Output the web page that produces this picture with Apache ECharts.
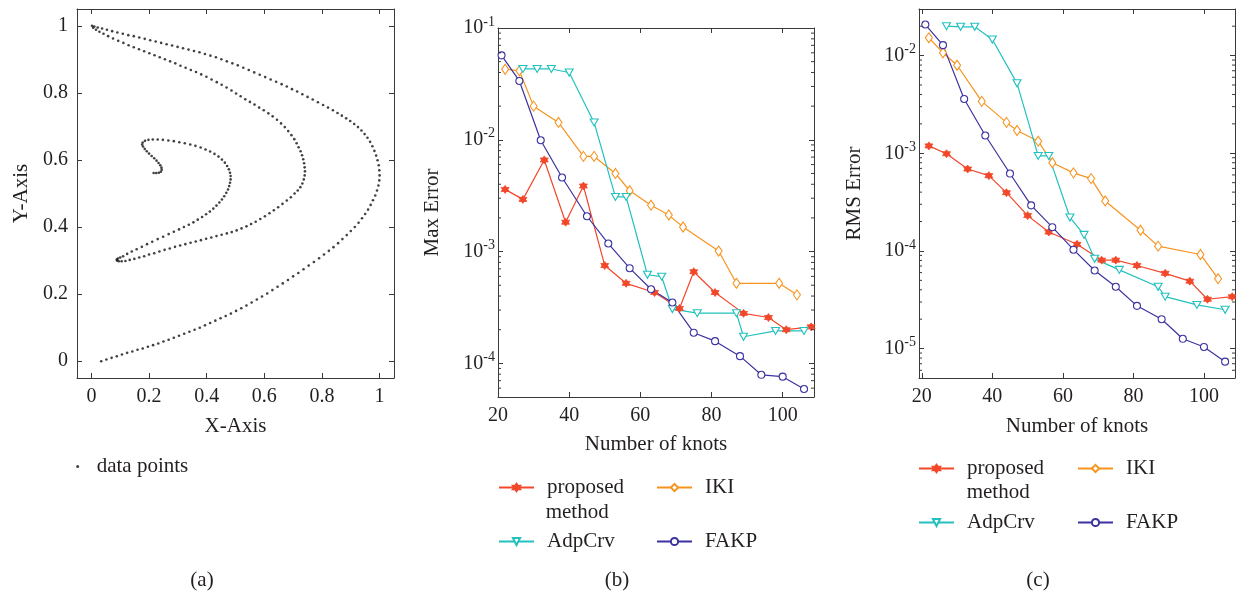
<!DOCTYPE html>
<html>
<head>
<meta charset="utf-8">
<title>knot placement errors</title>
<script src="https://cdn.jsdelivr.net/npm/echarts@6/dist/echarts.min.js"></script>
<style>
html, body { margin: 0; padding: 0; background: #fff; }
#chart { width: 1236px; height: 594px; }
</style>
</head>
<body>
<div id="chart"></div>
<script>
// (a) sampled points of the test curve, [x, y]
const curvePoints = [
  [0.034,0.000],[0.052,0.005],[0.070,0.010],[0.088,0.015],[0.106,0.020],[0.124,0.025],[0.142,0.029],[0.160,0.034],
  [0.178,0.038],[0.196,0.043],[0.214,0.048],[0.232,0.053],[0.250,0.059],[0.268,0.064],[0.286,0.070],[0.304,0.076],
  [0.322,0.082],[0.340,0.088],[0.358,0.094],[0.376,0.100],[0.394,0.107],[0.412,0.114],[0.430,0.121],[0.448,0.128],
  [0.466,0.135],[0.484,0.142],[0.502,0.150],[0.520,0.158],[0.538,0.166],[0.556,0.175],[0.574,0.184],[0.592,0.193],
  [0.610,0.202],[0.628,0.212],[0.646,0.222],[0.664,0.232],[0.682,0.242],[0.700,0.253],[0.718,0.263],[0.736,0.274],
  [0.754,0.285],[0.772,0.296],[0.790,0.307],[0.807,0.318],[0.824,0.329],[0.840,0.340],[0.856,0.352],[0.871,0.364],
  [0.886,0.376],[0.900,0.388],[0.914,0.400],[0.927,0.413],[0.939,0.426],[0.950,0.439],[0.960,0.452],[0.969,0.466],
  [0.977,0.480],[0.985,0.494],[0.991,0.509],[0.996,0.524],[0.999,0.539],[1.000,0.554],[0.999,0.569],[0.997,0.584],
  [0.993,0.599],[0.988,0.613],[0.982,0.627],[0.975,0.641],[0.967,0.654],[0.958,0.666],[0.948,0.677],[0.937,0.688],
  [0.925,0.698],[0.912,0.707],[0.898,0.716],[0.884,0.724],[0.869,0.732],[0.854,0.740],[0.838,0.748],[0.821,0.756],
  [0.804,0.764],[0.786,0.772],[0.768,0.780],[0.750,0.788],[0.732,0.796],[0.714,0.804],[0.696,0.811],[0.678,0.819],
  [0.660,0.826],[0.641,0.833],[0.622,0.840],[0.603,0.847],[0.584,0.854],[0.565,0.861],[0.546,0.868],[0.527,0.875],
  [0.508,0.882],[0.489,0.888],[0.470,0.894],[0.451,0.900],[0.432,0.906],[0.413,0.911],[0.394,0.916],[0.375,0.921],
  [0.356,0.925],[0.337,0.929],[0.318,0.933],[0.299,0.937],[0.280,0.941],[0.261,0.945],[0.242,0.949],[0.223,0.953],
  [0.204,0.957],[0.185,0.961],[0.166,0.965],[0.147,0.969],[0.128,0.972],[0.109,0.976],[0.090,0.980],[0.072,0.984],
  [0.054,0.988],[0.037,0.992],[0.022,0.995],[0.010,0.998],[0.002,1.000],
  [0.006,0.994],[0.016,0.988],[0.028,0.982],[0.042,0.976],[0.058,0.969],[0.075,0.962],[0.093,0.955],[0.111,0.949],
  [0.129,0.942],[0.147,0.936],[0.165,0.930],[0.183,0.924],[0.201,0.918],[0.219,0.912],[0.237,0.906],[0.255,0.900],
  [0.273,0.894],[0.291,0.888],[0.309,0.881],[0.327,0.875],[0.345,0.868],[0.363,0.862],[0.381,0.855],[0.399,0.848],
  [0.417,0.840],[0.435,0.832],[0.452,0.824],[0.469,0.816],[0.486,0.807],[0.502,0.798],[0.518,0.790],[0.534,0.781],
  [0.550,0.773],[0.566,0.765],[0.582,0.756],[0.598,0.748],[0.614,0.739],[0.629,0.730],[0.644,0.720],[0.658,0.709],
  [0.671,0.698],[0.683,0.686],[0.694,0.674],[0.704,0.662],[0.712,0.650],[0.719,0.638],[0.726,0.626],[0.731,0.614],
  [0.735,0.602],[0.738,0.590],[0.740,0.578],[0.741,0.566],[0.740,0.554],[0.737,0.542],[0.732,0.530],[0.725,0.519],
  [0.716,0.509],[0.705,0.500],[0.692,0.489],[0.678,0.479],[0.663,0.469],[0.648,0.459],[0.633,0.450],[0.618,0.441],
  [0.602,0.432],[0.586,0.424],[0.570,0.416],[0.554,0.409],[0.538,0.402],[0.521,0.396],[0.504,0.390],[0.487,0.385],
  [0.470,0.381],[0.452,0.377],[0.434,0.373],[0.416,0.369],[0.398,0.365],[0.380,0.361],[0.362,0.357],[0.344,0.353],
  [0.326,0.349],[0.308,0.345],[0.290,0.341],[0.272,0.336],[0.254,0.332],[0.236,0.327],[0.218,0.322],[0.200,0.318],
  [0.183,0.313],[0.166,0.309],[0.149,0.305],[0.133,0.302],[0.118,0.299],[0.105,0.298],[0.095,0.298],[0.089,0.300],
  [0.088,0.303],[0.092,0.306],[0.100,0.309],[0.110,0.313],[0.124,0.320],[0.140,0.327],[0.157,0.334],[0.175,0.341],
  [0.193,0.349],[0.211,0.356],[0.230,0.364],[0.249,0.371],[0.268,0.379],[0.286,0.386],[0.304,0.393],[0.321,0.400],
  [0.338,0.407],[0.354,0.414],[0.369,0.422],[0.384,0.430],[0.398,0.438],[0.411,0.446],[0.423,0.455],[0.434,0.464],
  [0.444,0.473],[0.453,0.482],[0.461,0.492],[0.468,0.502],[0.474,0.512],[0.478,0.522],[0.481,0.532],[0.483,0.542],
  [0.483,0.552],[0.481,0.562],[0.477,0.572],[0.471,0.582],[0.463,0.592],[0.453,0.601],[0.441,0.610],[0.427,0.618],
  [0.412,0.625],[0.396,0.631],[0.379,0.637],[0.361,0.642],[0.343,0.646],[0.324,0.650],[0.305,0.653],[0.286,0.656],
  [0.267,0.658],[0.248,0.660],[0.230,0.661],[0.213,0.661],[0.198,0.660],[0.186,0.657],[0.178,0.652],[0.176,0.646],
  [0.179,0.640],[0.185,0.633],[0.192,0.626],[0.200,0.619],[0.209,0.612],[0.218,0.605],[0.226,0.598],[0.233,0.591],
  [0.239,0.584],[0.243,0.577],[0.244,0.571],[0.241,0.565],[0.234,0.562],[0.225,0.561],[0.216,0.561]
]

// (b) max error against number of knots
const bProposedKnots = [22, 27, 33, 39, 44, 50, 56, 64, 71, 75, 81, 89, 96, 101, 108]
const bProposedErr = [3.6e-3, 2.93e-3, 6.6e-3, 1.83e-3, 3.86e-3, 7.5e-4, 5.2e-4, 4.3e-4, 3.1e-4, 6.6e-4, 4.3e-4, 2.8e-4, 2.57e-4, 2.0e-4, 2.12e-4]
const bIkiKnots = [22, 26, 30, 37, 44, 47, 53, 57, 63, 68, 72, 82, 87, 99, 104]
const bIkiErr = [0.0428, 0.0414, 0.02, 0.0143, 7.1e-3, 7.1e-3, 5.0e-3, 3.5e-3, 2.6e-3, 2.12e-3, 1.66e-3, 1.01e-3, 5.2e-4, 5.2e-4, 4.1e-4]
const bAdpKnots = [27, 31, 35, 40, 47, 53, 56, 62, 66, 69, 76, 87, 89, 98, 106]
const bAdpErr = [0.043, 0.043, 0.043, 0.040, 0.0143, 3.08e-3, 3.08e-3, 6.2e-4, 5.96e-4, 3.06e-4, 2.81e-4, 2.81e-4, 1.73e-4, 1.95e-4, 1.95e-4]
const bFakpKnots = [21, 26, 32, 38, 45, 51, 57, 63, 69, 75, 81, 88, 94, 100, 106]
const bFakpErr = [0.0569, 0.0336, 9.9e-3, 4.6e-3, 2.07e-3, 1.18e-3, 7.1e-4, 4.6e-4, 3.5e-4, 1.88e-4, 1.58e-4, 1.16e-4, 7.9e-5, 7.6e-5, 5.9e-5]

// (c) RMS error against number of knots
const cProposedKnots = [22, 27, 33, 39, 44, 50, 56, 64, 71, 75, 81, 89, 96, 101, 108]
const cProposedErr = [1.19e-3, 9.9e-4, 6.9e-4, 5.9e-4, 3.95e-4, 2.3e-4, 1.56e-4, 1.17e-4, 8.05e-5, 8.05e-5, 7.1e-5, 5.9e-5, 4.9e-5, 3.2e-5, 3.4e-5]
const cIkiKnots = [22, 26, 30, 37, 44, 47, 53, 57, 63, 68, 72, 82, 87, 99, 104]
const cIkiErr = [0.0152, 0.0107, 7.96e-3, 3.4e-3, 2.07e-3, 1.71e-3, 1.33e-3, 8.0e-4, 6.3e-4, 5.5e-4, 3.25e-4, 1.63e-4, 1.12e-4, 9.2e-5, 5.2e-5]
const cAdpKnots = [27, 31, 35, 40, 47, 53, 56, 62, 66, 69, 76, 87, 89, 98, 106]
const cAdpErr = [0.02, 0.0197, 0.0197, 0.0146, 5.2e-3, 9.4e-4, 9.4e-4, 2.2e-4, 1.46e-4, 8.3e-5, 6.4e-5, 4.3e-5, 3.4e-5, 2.8e-5, 2.5e-5]
const cFakpKnots = [21, 26, 32, 38, 45, 51, 57, 63, 69, 75, 81, 88, 94, 100, 106]
const cFakpErr = [0.0208, 0.0128, 3.6e-3, 1.52e-3, 6.2e-4, 2.93e-4, 1.75e-4, 1.03e-4, 6.3e-5, 4.3e-5, 2.74e-5, 2.0e-5, 1.26e-5, 1.04e-5, 7.35e-6]

// tick labels
const unitTicks = [0, 0.2, 0.4, 0.6, 0.8, 1]
const knotTicks = [20, 40, 60, 80, 100]
const minorMantissa = [2, 3, 4, 5, 6, 7, 8, 9]
const minorDecades = [-6, -5, -4, -3, -2]

const FONT = '"Liberation Serif", "Times New Roman", serif'
const INK = '#231f20'
const AXIS = '#3a3a3a'
const RED = '#f2472a'
const ORANGE = '#f7941e'
const TEAL = '#22c1bf'
const NAVY = '#3b33a0'
const HEXAGRAM = 'path://M0,-10L8.66,5L-8.66,5Z M0,10L-8.66,-5L8.66,-5Z'
const TRI_DOWN = 'path://M-5,-4L5,-4L0,4Z'

function zip (xs, ys) {
  return xs.map((x, i) => [x, ys[i]])
}

function minorValues (min, max) {
  const out = []
  minorDecades.forEach(d => {
    minorMantissa.forEach(m => {
      const v = m * Math.pow(10, d)
      if (v > min && v < max) out.push(v)
    })
  })
  return out
}

function logLabel (v) {
  const l = Math.log10(v)
  const e = Math.round(l)
  if (Math.abs(l - e) > 1e-6) return ''
  return '{b|10}{s|' + e + '}'
}

function valueAxis (gridIndex, position, min, max, ticks, extra) {
  const showLabel = position === 'bottom' || position === 'left'
  return Object.assign({
    type: 'value',
    gridIndex: gridIndex,
    position: position,
    min: min,
    max: max,
    axisLine: { show: true, onZero: false, lineStyle: { color: AXIS, width: 1 } },
    axisTick: { show: true, inside: true, length: 5, customValues: ticks, lineStyle: { color: AXIS } },
    axisLabel: {
      show: showLabel,
      customValues: ticks,
      margin: position === 'left' ? 9 : 9,
      fontSize: 20,
      fontFamily: FONT,
      color: INK
    },
    splitLine: { show: false },
    nameLocation: 'middle',
    nameTextStyle: { fontSize: 21, fontFamily: FONT, color: INK }
  }, extra || {})
}

function logAxis (gridIndex, position, min, max, extra) {
  const showLabel = position === 'left'
  return Object.assign({
    type: 'log',
    logBase: 10,
    gridIndex: gridIndex,
    position: position,
    min: min,
    max: max,
    axisLine: { show: true, onZero: false, lineStyle: { color: AXIS, width: 1 } },
    axisTick: { show: true, inside: true, length: 5, lineStyle: { color: AXIS } },
    axisLabel: {
      show: showLabel,
      margin: 3,
      fontFamily: FONT,
      color: INK,
      formatter: logLabel,
      rich: {
        b: { fontSize: 20, fontFamily: FONT, color: INK },
        s: { fontSize: 14, fontFamily: FONT, color: INK, padding: [0, 0, 12, 0] }
      }
    },
    splitLine: { show: false },
    minorTick: { show: false },
    nameLocation: 'middle',
    nameTextStyle: { fontSize: 21, fontFamily: FONT, color: INK }
  }, extra || {})
}

function minorTickSeries (xAxisIndex, yAxisIndex, xRef, values) {
  return {
    type: 'custom',
    xAxisIndex: xAxisIndex,
    yAxisIndex: yAxisIndex,
    silent: true,
    z: 5,
    data: values.map(v => [xRef, v]),
    renderItem: function (params, api) {
      const cs = params.coordSys
      const y = api.coord([api.value(0), api.value(1)])[1]
      return {
        type: 'group',
        children: [
          { type: 'line', shape: { x1: cs.x, y1: y, x2: cs.x + 3, y2: y }, style: { stroke: AXIS, lineWidth: 1 } },
          { type: 'line', shape: { x1: cs.x + cs.width - 3, y1: y, x2: cs.x + cs.width, y2: y }, style: { stroke: AXIS, lineWidth: 1 } }
        ]
      }
    }
  }
}

function errSeries (name, xAxisIndex, yAxisIndex, knots, errs, kind) {
  const s = {
    name: name,
    type: 'line',
    xAxisIndex: xAxisIndex,
    yAxisIndex: yAxisIndex,
    data: zip(knots, errs),
    showAllSymbol: true,
    emphasis: { disabled: true },
    z: 3
  }
  if (kind === 'proposed') {
    s.symbol = HEXAGRAM
    s.symbolSize = 8
    s.lineStyle = { color: RED, width: 1.2 }
    s.itemStyle = { color: RED, borderColor: RED, borderWidth: 0.8 }
  } else if (kind === 'iki') {
    s.symbol = 'diamond'
    s.symbolSize = [7, 10]
    s.lineStyle = { color: ORANGE, width: 1.2 }
    s.itemStyle = { color: '#fff', borderColor: ORANGE, borderWidth: 1.1 }
  } else if (kind === 'adp') {
    s.symbol = TRI_DOWN
    s.symbolSize = [8, 7]
    s.lineStyle = { color: TEAL, width: 1.2 }
    s.itemStyle = { color: '#fff', borderColor: TEAL, borderWidth: 1.1 }
  } else {
    s.symbol = 'circle'
    s.symbolSize = 7
    s.lineStyle = { color: NAVY, width: 1.2 }
    s.itemStyle = { color: '#fff', borderColor: NAVY, borderWidth: 1.1 }
  }
  return s
}

function legendItem (name, left, centerY, label) {
  return {
    data: [name],
    left: left,
    top: centerY - 11,
    padding: 0,
    itemWidth: 35,
    itemHeight: 9,
    selectedMode: false,
    formatter: label ? () => label : undefined,
    textStyle: { fontSize: 21, fontFamily: FONT, color: INK, padding: [0, 0, 0, 8] }
  }
}

function caption (text, x, y, align) {
  return {
    type: 'text',
    x: x,
    y: y,
    silent: true,
    style: {
      text: text,
      font: '21px ' + FONT,
      fill: INK,
      align: align || 'center',
      verticalAlign: 'middle',
      textAlign: align || 'center',
      textVerticalAlign: 'middle'
    }
  }
}

const chart = echarts.init(document.getElementById('chart'))

chart.setOption({
  animation: false,
  backgroundColor: '#fff',
  textStyle: { fontFamily: FONT },
  grid: [
    { left: 77, top: 9, width: 317, height: 369, outerBoundsMode: 'none' },
    { left: 498, top: 28, width: 316, height: 369, outerBoundsMode: 'none' },
    { left: 919, top: 9, width: 316, height: 369, outerBoundsMode: 'none' }
  ],
  xAxis: [
    valueAxis(0, 'bottom', -0.05, 1.05, unitTicks, { name: 'X-Axis', nameGap: 38 }),
    valueAxis(0, 'top', -0.05, 1.05, unitTicks),
    valueAxis(1, 'bottom', 20, 108.8, knotTicks, { name: 'Number of knots', nameGap: 37 }),
    valueAxis(1, 'top', 20, 108.8, knotTicks),
    valueAxis(2, 'bottom', 19.2, 108.8, knotTicks, { name: 'Number of knots', nameGap: 38 }),
    valueAxis(2, 'top', 19.2, 108.8, knotTicks)
  ],
  yAxis: [
    valueAxis(0, 'left', -0.05, 1.05, unitTicks, { name: 'Y-Axis', nameGap: 45 }),
    valueAxis(0, 'right', -0.05, 1.05, unitTicks),
    logAxis(1, 'left', 5e-5, 0.1, { name: 'Max Error', nameGap: 55 }),
    logAxis(1, 'right', 5e-5, 0.1),
    logAxis(2, 'left', 5e-6, 0.03, { name: 'RMS Error', nameGap: 54 }),
    logAxis(2, 'right', 5e-6, 0.03)
  ],
  legend: [
    {
      data: ['data points'],
      left: 76.2,
      top: 456,
      padding: 0,
      icon: 'circle',
      itemWidth: 28,
      itemHeight: 3,
      selectedMode: false,
      textStyle: { fontSize: 21, fontFamily: FONT, color: INK }
    },
    legendItem('proposed method', 498, 488, 'proposed'),
    legendItem('IKI', 656, 488),
    legendItem('AdpCrv', 498, 542),
    legendItem('FAKP', 656, 542),
    legendItem('proposed method', 918, 469, 'proposed'),
    legendItem('IKI', 1077, 469),
    legendItem('AdpCrv', 918, 523),
    legendItem('FAKP', 1077, 523)
  ],
  graphic: [
    caption('method', 545.7, 512, 'left'),
    caption('method', 966.7, 492.5, 'left'),
    caption('(a)', 202, 580),
    caption('(b)', 617, 580),
    caption('(c)', 1038, 580)
  ],
  series: [
    {
      name: 'data points',
      type: 'scatter',
      xAxisIndex: 0,
      yAxisIndex: 0,
      data: curvePoints,
      symbol: 'circle',
      symbolSize: 2.6,
      itemStyle: { color: '#111' },
      emphasis: { disabled: true }
    },
    errSeries('proposed method', 2, 2, bProposedKnots, bProposedErr, 'proposed'),
    errSeries('IKI', 2, 2, bIkiKnots, bIkiErr, 'iki'),
    errSeries('AdpCrv', 2, 2, bAdpKnots, bAdpErr, 'adp'),
    errSeries('FAKP', 2, 2, bFakpKnots, bFakpErr, 'fakp'),
    errSeries('proposed method', 4, 4, cProposedKnots, cProposedErr, 'proposed'),
    errSeries('IKI', 4, 4, cIkiKnots, cIkiErr, 'iki'),
    errSeries('AdpCrv', 4, 4, cAdpKnots, cAdpErr, 'adp'),
    errSeries('FAKP', 4, 4, cFakpKnots, cFakpErr, 'fakp'),
    minorTickSeries(2, 2, 60, minorValues(5e-5, 0.1)),
    minorTickSeries(4, 4, 60, minorValues(5e-6, 0.03))
  ]
})
</script>
</body>
</html>
